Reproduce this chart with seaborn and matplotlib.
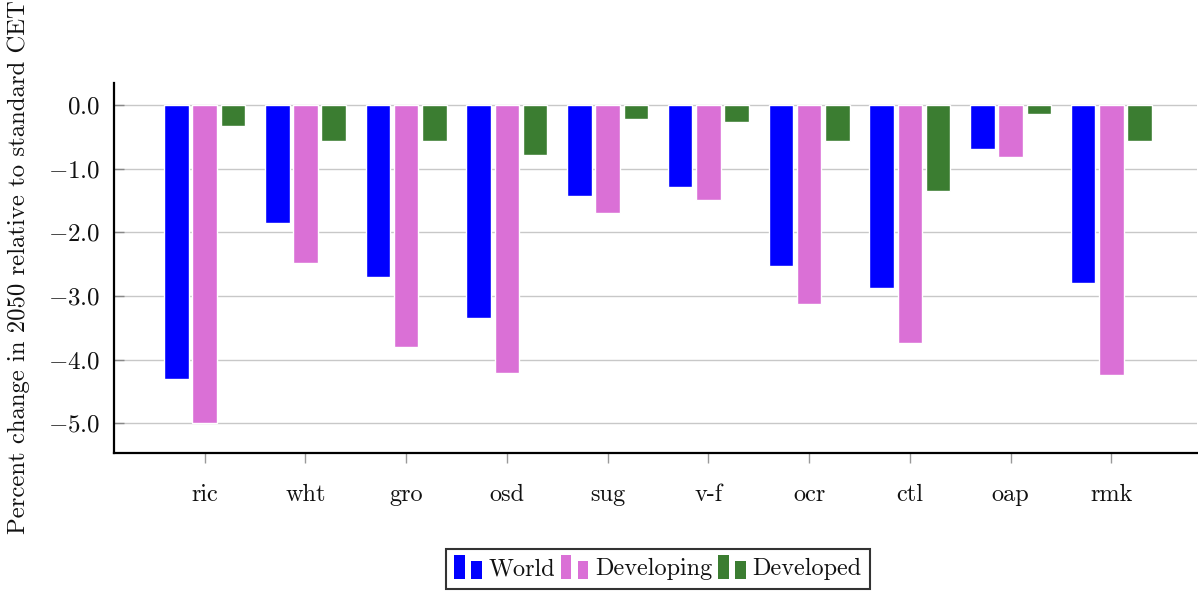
import matplotlib
matplotlib.use("Agg")
import matplotlib.pyplot as plt
from matplotlib.legend_handler import HandlerBase
from matplotlib.patches import Rectangle
import seaborn as sns
import pandas as pd

# Commodity codes and percent change per region
commodities = ["ric", "wht", "gro", "osd", "sug", "v-f", "ocr", "ctl", "oap", "rmk"]
world = [-4.31, -1.85, -2.70, -3.34, -1.43, -1.29, -2.53, -2.87, -0.69, -2.79]
developing = [-5.00, -2.48, -3.80, -4.21, -1.69, -1.49, -3.12, -3.74, -0.81, -4.24]
developed = [-0.33, -0.56, -0.57, -0.79, -0.21, -0.26, -0.57, -1.35, -0.14, -0.57]
regions = ["World", "Developing", "Developed"]
colors = ["#0000ff", "#da70d6", "#3b7d31"]
y_ticks = [0.0, -1.0, -2.0, -3.0, -4.0, -5.0]

df = pd.DataFrame({
    "commodity": commodities * 3,
    "region": [r for r in regions for _ in commodities],
    "change": world + developing + developed,
})

FS = 17.5

sns.set_theme(style="white")
plt.rcParams["font.family"] = ["cmr10", "DejaVu Serif"]
plt.rcParams["mathtext.fontset"] = "cm"
plt.rcParams["axes.unicode_minus"] = False

fig = plt.figure(figsize=(11.98, 5.93), dpi=100)
ax = fig.add_axes([0.0952, 0.2361, 0.9040, 0.6240])

sns.barplot(data=df, x="commodity", y="change", hue="region",
            order=commodities, hue_order=regions, palette=colors,
            width=0.84, gap=0.13, saturation=1, errorbar=None,
            legend=False, ax=ax, zorder=3)

ax.set_xlim(-0.9, 9.85)
ax.set_ylim(-5.47, 0.35)
ax.set_yticks(y_ticks)
ax.set_yticklabels([f"${v:.1f}$" for v in y_ticks])
ax.set_xlabel("")
ax.set_ylabel("")

ax.yaxis.grid(True, color="#c8c8c8", linewidth=1.0, zorder=0)
ax.xaxis.grid(False)
ax.set_axisbelow(True)

for side in ("top", "right"):
    ax.spines[side].set_visible(False)
for side in ("left", "bottom"):
    ax.spines[side].set_color("black")
    ax.spines[side].set_linewidth(1.6)

ax.tick_params(axis="y", direction="in", length=7, width=1.0, color="#888888",
               labelsize=FS + 0.5, pad=10, labelcolor="#111111", left=True)
ax.tick_params(axis="x", direction="out", length=7, width=1.0, color="#999999",
               labelsize=FS, pad=15, labelcolor="#111111", bottom=True)

fig.text(0.0155, 0.550, "Percent change in 2050 relative to standard CET",
         rotation=90, ha="center", va="center", fontsize=FS + 0.3, color="#111111")


class TwoBarHandler(HandlerBase):
    """Legend key drawn as a tall bar next to a shorter one."""

    def create_artists(self, legend, orig_handle, xdescent, ydescent,
                       width, height, fontsize, trans):
        c = orig_handle.get_facecolor()
        bw = width * 0.36
        tall = Rectangle((-xdescent, -ydescent - height * 0.25), bw, height * 1.45,
                         facecolor=c, edgecolor="none", transform=trans)
        short = Rectangle((-xdescent + width * 0.58, -ydescent - height * 0.25), bw,
                          height * 1.05, facecolor=c, edgecolor="none", transform=trans)
        return [tall, short]


handles = [Rectangle((0, 0), 1, 1, facecolor=c) for c in colors]
leg = fig.legend(handles, regions, loc="center", bbox_to_anchor=(0.549, 0.0405),
                 ncol=3, fontsize=FS, frameon=True, fancybox=False,
                 edgecolor="black", handler_map={Rectangle: TwoBarHandler()},
                 handlelength=1.2, handletextpad=0.2, columnspacing=0.25,
                 borderpad=0.35, borderaxespad=0)
leg.get_frame().set_linewidth(1.5)
for t in leg.get_texts():
    t.set_color("#111111")

fig.savefig("out.png", dpi=100, facecolor="white")
